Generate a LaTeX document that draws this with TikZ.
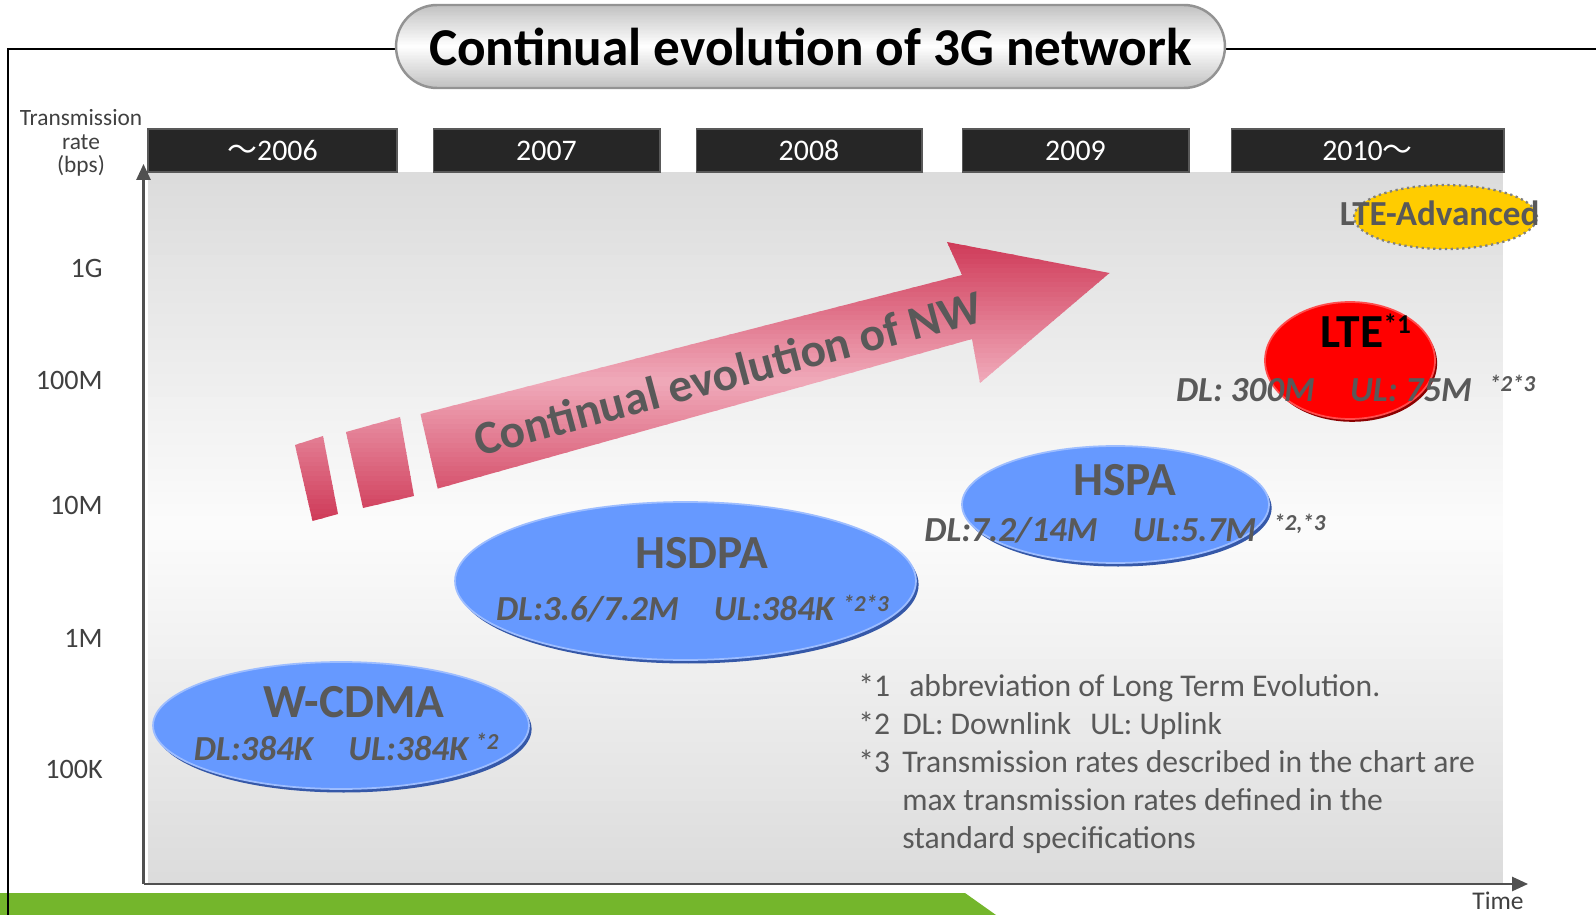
\documentclass[tikz,border=0pt]{standalone}
\usepackage{fontspec}
\setmainfont{Carlito}
\newfontfamily\cjkfont{Noto Sans CJK JP}
\usetikzlibrary{shapes.geometric,arrows.meta,shadows}
\definecolor{txtgray}{HTML}{595959}
\definecolor{lblgray}{HTML}{404040}
\definecolor{axisgray}{HTML}{505050}
\definecolor{boxblack}{HTML}{262626}
\definecolor{ellblue}{HTML}{6699FF}
\definecolor{ellrim}{HTML}{9DBDFF}
\definecolor{ellshadow}{HTML}{3558A8}
\definecolor{lteyellow}{HTML}{FFCC00}
\definecolor{arrowdark}{HTML}{CF3A58}
\definecolor{arrowpink}{HTML}{F0AABA}
\definecolor{bandgreen}{HTML}{74B62C}
\definecolor{plotgray}{HTML}{DCDCDC}
\definecolor{plotlight}{HTML}{FCFCFC}
\definecolor{pillgray}{HTML}{C2C2C2}
\newcommand\supx[2][6pt]{\raisebox{#1}{\fontsize{13}{13}\selectfont #2}}
% vertical gradient by stripes: x1,y1,x2,y2,edge colour,middle colour
\newcommand\gradstripes[6]{%
  \foreach \i in {0,...,59}{%
    \pgfmathsetmacro\ya{#2+(\i/60)*(#4-#2)}%
    \pgfmathsetmacro\yb{#2+((\i+1)/60)*(#4-#2)+0.8}%
    \pgfmathsetmacro\pc{100*(1-abs(\i-29.5)/29.5)}%
    \fill[#6!\pc!#5] (#1,\ya) rectangle (#3,\yb);
  }}
\begin{document}
\begin{tikzpicture}[x=0.02cm,y=-0.02cm,
  frameline/.style={draw=black,line width=1.7pt},
  titlepill/.style={draw=gray!85,line width=1.4pt,
     minimum width=16.58cm,minimum height=1.66cm,rounded corners=0.82cm,inner sep=0pt,
     font=\bfseries\fontsize{30.3}{30.3}\selectfont},
  yearbox/.style={draw=gray!70!black,line width=0.6pt,fill=boxblack,text=white,minimum height=0.86cm,
     inner sep=0pt,font=\fontsize{17}{17}\selectfont},
  ylabel/.style={anchor=base east,inner sep=0pt,text=lblgray,font=\fontsize{16}{16}\selectfont},
  axisline/.style={draw=axisgray,line width=1.2pt,-{Triangle[length=9pt,width=8pt]}},
  blueell/.style={ellipse,fill=ellblue,draw=ellrim,line width=1pt,inner sep=0pt,
     drop shadow={shadow xshift=1.5pt,shadow yshift=-2pt,fill=ellshadow,opacity=1}},
  ellname/.style={inner sep=0pt,text=txtgray,font=\bfseries\fontsize{27}{27}\selectfont},
  ratetext/.style={anchor=base west,inner sep=0pt,text=txtgray,font=\bfseries\itshape\fontsize{20}{20}\selectfont},
  notetext/.style={anchor=base west,inner sep=0pt,text=txtgray,font=\fontsize{18}{18}\selectfont},
]
\useasboundingbox (0,0) rectangle (1596,915);
% green band
\fill[bandgreen] (0,893) -- (965,893) -- (996,915) -- (0,915) -- cycle;
% frame
\draw[frameline] (8,915) -- (8,49) -- (396,49);
\draw[frameline] (1225,49) -- (1596,49);
% title pill with gradient
\begin{scope}
  \clip[rounded corners=0.82cm] (396,5) rectangle (1225,88);
  \gradstripes{396}{5}{1225}{88}{pillgray}{white}
\end{scope}
\node[titlepill] (title) at (810.5,46.5) {Continual evolution of 3G network};
% plot area
\gradstripes{148}{172}{1503}{884}{plotgray}{plotlight}
% year boxes
\node[yearbox,minimum width=4.98cm] (y2006) at (272.5,150.5) {{\cjkfont ～}2006};
\node[yearbox,minimum width=4.54cm] (y2007) at (546.5,150.5) {2007};
\node[yearbox,minimum width=4.52cm] (y2008) at (809,150.5) {2008};
\node[yearbox,minimum width=4.54cm] (y2009) at (1075.5,150.5) {2009};
\node[yearbox,minimum width=5.46cm] (y2010) at (1367.5,150.5) {2010{\cjkfont ～}};
% axes
\coordinate (origin) at (143.5,884);
\coordinate (ytip) at (143.5,164);
\coordinate (xtip) at (1528,884);
\draw[axisline] (origin) -- (ytip);
\draw[axisline] (origin) -- (xtip);
\node[align=center,inner sep=0pt,text=lblgray,font=\fontsize{13.3}{13.3}\selectfont] (ytitle) at (81,143) {Transmission\\rate\\(bps)};
\node[inner sep=0pt,text=lblgray,font=\fontsize{14.5}{14.5}\selectfont] (xtitle) at (1498,901) {Time};
\node[ylabel] (l1g) at (103,278) {1G};
\node[ylabel] (l100m) at (103,390) {100M};
\node[ylabel] (l10m) at (103,514) {10M};
\node[ylabel] (l1m) at (103,647) {1M};
\node[ylabel] (l100k) at (103,778) {100K};
% evolution arrow
\begin{scope}
  \clip (295,445) -- (323,436) -- (338,514) -- (312.5,521) -- cycle
        (346,432) -- (400,417) -- (414,496) -- (363,508) -- cycle
        (420.5,414) -- (962,275) -- (947,242) -- (1109.5,273) -- (980,383) -- (972,339) -- (437.7,488.6) -- cycle;
  \gradstripes{290}{240}{1112}{523}{arrowdark}{arrowpink}
\end{scope}
\node[anchor=base,rotate=15,inner sep=0pt,text=txtgray,font=\bfseries\fontsize{27}{27}\selectfont] (evo) at (732,389) {Continual evolution of NW};
% LTE-Advanced
\node[ellipse,fill=lteyellow,draw=gray,line width=1.3pt,dotted,minimum width=3.66cm,minimum height=1.28cm,inner sep=0pt] (lteaell) at (1445.5,217) {};
\node[ellname,anchor=base west,font=\bfseries\fontsize{20}{20}\selectfont] (ltea) at (1339.6,226) {LTE-Advanced};
% LTE
\node[ellipse,fill=red,draw=red!70!white,line width=1pt,inner sep=0pt,minimum width=3.4cm,minimum height=2.34cm,
  drop shadow={shadow xshift=1.2pt,shadow yshift=-1.6pt,fill=red!55!black,opacity=1}] (lteell) at (1350,360.5) {};
\node[ellname,anchor=base west,text=black] (lte) at (1320,348) {LTE\raisebox{8pt}{\fontsize{15.5}{15.5}\selectfont *1}};
\node[ratetext] (lterate) at (1175.7,402) {DL: 300M\hspace{1em}UL: 75M\hspace{10pt}\supx{*2*3}};
% HSPA
\node[blueell,minimum width=6.14cm,minimum height=2.34cm] (hspaell) at (1115.5,504.5) {};
\node[ellname,anchor=base] (hspa) at (1125,496) {HSPA};
\node[ratetext] (hsparate) at (924,541.5) {DL:7.2/14M\hspace{1em}UL:5.7M\hspace{10pt}\supx{*2,*3}};
% HSDPA
\node[blueell,minimum width=9.22cm,minimum height=3.16cm] (hsdpaell) at (685.5,581) {};
\node[ellname,anchor=base] (hsdpa) at (702,568) {HSDPA};
\node[ratetext] (hsdparate) at (495.7,620) {DL:3.6/7.2M\hspace{1em}UL:384K\hspace{5pt}\supx[5pt]{*2*3}};
% W-CDMA
\node[blueell,minimum width=7.52cm,minimum height=2.54cm] (wcdmaell) at (341,725.5) {};
\node[ellname,anchor=base] (wcdma) at (354,717) {W-CDMA};
\node[ratetext] (wcdmarate) at (193.4,760) {DL:384K\hspace{1em}UL:384K\hspace{4pt}\supx{*2}};
% notes
\node[notetext] (note1) at (858,696) {\makebox[29pt][l]{*1}abbreviation of Long Term Evolution.};
\node[notetext] (note2) at (858,734) {\makebox[25pt][l]{*2}DL: Downlink\hspace{0.6em}UL: Uplink};
\node[notetext] (note3) at (858,772.5) {\makebox[25pt][l]{*3}Transmission rates described in the chart are};
\node[notetext] (note4) at (902,810) {max transmission rates defined in the};
\node[notetext] (note5) at (902,848) {standard specifications};
\end{tikzpicture}
\end{document}
